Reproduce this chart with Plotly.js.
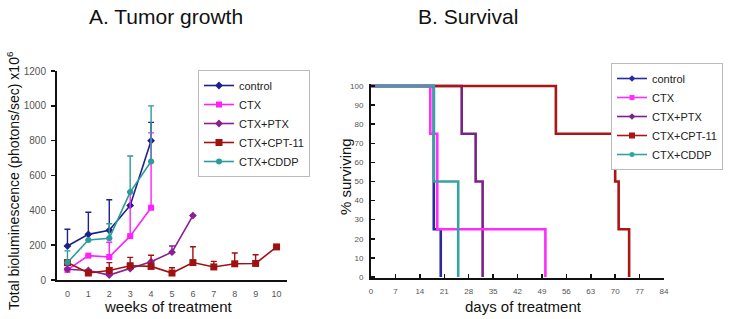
<!DOCTYPE html>
<html>
<head>
<meta charset="utf-8">
<script src="https://cdn.plot.ly/plotly-3.0.1.min.js"></script>
<style>html,body{margin:0;padding:0;background:#fff;}#chart{width:729px;height:319px;}</style>
</head>
<body>
<div id="chart"></div>
<script>
// ---- Panel A: tumor growth (weeks) ----
const seriesNames = ['control', 'CTX', 'CTX+PTX', 'CTX+CPT-11', 'CTX+CDDP'];
const weeks = [0, 1, 2, 3, 4, 5, 6, 7, 8, 9, 10];
const controlVals = [195, 262, 285, 428, 800];
const controlErr = [96, 127, 176, 0, 105];
const ctxVals = [58, 140, 132, 252, 415];
const ctxErr = [0, 0, 85, 255, 430];
const ptxVals = [62, 55, 28, 65, 105, 160, 370];
const ptxErr = [0, 0, 0, 0, 0, 35, 0];
const cptVals = [100, 40, 55, 82, 78, 40, 100, 75, 93, 95, 190];
const cptErr = [0, 0, 45, 48, 64, 30, 91, 32, 62, 50, 0];
const cddpVals = [100, 230, 240, 505, 680];
const cddpErr = [67, 0, 83, 207, 320];
const weekTicks = ['0', '1', '2', '3', '4', '5', '6', '7', '8', '9', '10'];

// ---- Panel B: survival (days, % surviving) ----
const controlDays = [0, 18, 20];
const controlSurv = [100, 25, 0];
const ctxDays = [0, 17, 19, 50];
const ctxSurv = [100, 75, 25, 0];
const ptxDays = [0, 26, 30, 32];
const ptxSurv = [100, 75, 50, 0];
const cptDays = [0, 53, 70, 71, 74];
const cptSurv = [100, 75, 50, 25, 0];
const cddpDays = [0, 18, 25];
const cddpSurv = [100, 50, 0];
const dayTicks = [0, 7, 14, 21, 28, 35, 42, 49, 56, 63, 70, 77, 84];
const survTicks = [0, 10, 20, 30, 40, 50, 60, 70, 80, 90, 100];

const colA = ['#1c2288', '#ff1fff', '#8a1f96', '#a01212', '#2e9b9b'];
const colB = ['#2a2aa0', '#ff2bff', '#7a2288', '#ad1414', '#36a3a3'];
const symbols = ['diamond', 'square', 'diamond', 'square', 'circle'];
const msize = [6, 6, 6, 7, 6];

const growth = [
  [controlVals, controlErr],
  [ctxVals, ctxErr],
  [ptxVals, ptxErr],
  [cptVals, cptErr],
  [cddpVals, cddpErr]
];
const surv = [
  [controlDays, controlSurv],
  [ctxDays, ctxSurv],
  [ptxDays, ptxSurv],
  [cptDays, cptSurv],
  [cddpDays, cddpSurv]
];

const traces = [];
growth.forEach((g, i) => {
  const n = g[0].length;
  traces.push({
    x: weeks.slice(0, n), y: g[0], name: seriesNames[i],
    type: 'scatter', mode: 'lines+markers',
    xaxis: 'x', yaxis: 'y', legend: 'legend',
    line: {color: colA[i], width: 1.6},
    marker: {color: colA[i], symbol: symbols[i], size: msize[i]},
    error_y: {type: 'data', symmetric: false, array: g[1], arrayminus: g[1].map(() => 0),
              color: colA[i], thickness: 1.4, width: 3}
  });
});
// survival step curves (draw order for overlap)
[2, 3, 0, 1, 4].forEach(i => {
  traces.push({
    x: surv[i][0], y: surv[i][1], name: seriesNames[i],
    type: 'scatter', mode: 'lines', line: {shape: 'hv', color: colB[i], width: 2.6},
    xaxis: 'x2', yaxis: 'y2', showlegend: false
  });
});
// legend entries for panel B
seriesNames.forEach((nm, i) => {
  traces.push({
    x: [null], y: [null], name: nm, type: 'scatter', mode: 'lines+markers',
    xaxis: 'x2', yaxis: 'y2', legend: 'legend2',
    line: {color: colB[i], width: 1.6},
    marker: {color: colB[i], symbol: symbols[i], size: msize[i] - 1}
  });
});

const tickFont = {family: 'Arial, Liberation Sans, sans-serif', size: 9, color: '#555'};
const titleFont = {family: 'Arial, Liberation Sans, sans-serif', size: 21, color: '#111'};
const labFont = {family: 'Arial, Liberation Sans, sans-serif', size: 14, color: '#111'};
const legFont = {family: 'Arial, Liberation Sans, sans-serif', size: 11, color: '#222'};

const layout = {
  width: 729, height: 319,
  margin: {l: 0, r: 0, t: 0, b: 0},
  paper_bgcolor: '#fff', plot_bgcolor: 'rgba(0,0,0,0)',
  xaxis: {
    domain: [57 / 729, 287 / 729], range: [-0.5, 10.5], anchor: 'y',
    tickvals: weeks, ticktext: weekTicks, ticks: '', showgrid: false, zeroline: false,
    showline: true, linecolor: '#111', linewidth: 2, tickfont: tickFont, ticklabelstandoff: 4
  },
  xaxis3: {
    domain: [57 / 729, 287 / 729], range: [-0.5, 10.5], anchor: 'y', overlaying: 'x',
    tickvals: weeks.map(w => w - 0.5).concat([10.5]), ticks: 'inside', ticklen: 4, tickwidth: 1.5,
    tickcolor: '#111', showticklabels: false, showgrid: false, zeroline: false, showline: false
  },
  yaxis: {
    domain: [1 - 280 / 319, 1 - 71 / 319], range: [0, 1200], anchor: 'x',
    tickvals: [0, 200, 400, 600, 800, 1000, 1200], ticks: 'outside', ticklen: 4, tickwidth: 1.5,
    tickcolor: '#111', showgrid: false, zeroline: false, showline: true, linecolor: '#111', linewidth: 2,
    tickfont: {family: 'Arial, Liberation Sans, sans-serif', size: 10, color: '#555'}, ticklabelstandoff: 3
  },
  xaxis2: {
    domain: [371 / 729, 664 / 729], range: [0, 84], anchor: 'y2',
    tickvals: dayTicks, ticks: 'inside', ticklen: 4, tickwidth: 1.5, tickcolor: '#111',
    showgrid: false, zeroline: false, showline: true, linecolor: '#111', linewidth: 2,
    tickfont: {family: 'Arial, Liberation Sans, sans-serif', size: 8, color: '#555'}, ticklabelstandoff: 4
  },
  yaxis2: {
    domain: [1 - 278.1 / 319, 1 - 84.1 / 319], range: [-0.6, 101], anchor: 'x2',
    tickvals: survTicks, ticks: 'inside', ticklen: 4, tickwidth: 1.5, tickcolor: '#111',
    showgrid: false, zeroline: false, showline: true, linecolor: '#111', linewidth: 2,
    tickfont: {family: 'Arial, Liberation Sans, sans-serif', size: 8, color: '#555'}, ticklabelstandoff: 4
  },
  legend: {
    x: 198 / 729, y: 1 - 70 / 319, xanchor: 'left', yanchor: 'top',
    bgcolor: '#fff', bordercolor: '#bbb', borderwidth: 1, font: legFont,
    itemwidth: 30, tracegroupgap: 0
  },
  legend2: {
    x: 723 / 729, y: 1 - 63 / 319, xanchor: 'right', yanchor: 'top',
    bgcolor: '#fff', bordercolor: '#bbb', borderwidth: 1, font: legFont,
    itemwidth: 30, tracegroupgap: 0
  },
  showlegend: true,
  annotations: [
    {text: 'A. Tumor growth', x: 166 / 729, y: 1 - 17 / 319, xref: 'paper', yref: 'paper',
     showarrow: false, font: titleFont, xanchor: 'center', yanchor: 'middle'},
    {text: 'B. Survival', x: 468 / 729, y: 1 - 17 / 319, xref: 'paper', yref: 'paper',
     showarrow: false, font: titleFont, xanchor: 'center', yanchor: 'middle'},
    {text: 'Total bioluminescence (photons/sec) x10<sup>6</sup>', x: 13 / 729, y: 1 - 181 / 319,
     xref: 'paper', yref: 'paper', showarrow: false, textangle: -90, font: labFont,
     xanchor: 'center', yanchor: 'middle'},
    {text: '% surviving', x: 345 / 729, y: 1 - 177 / 319, xref: 'paper', yref: 'paper',
     showarrow: false, textangle: -90, font: {family: labFont.family, size: 15, color: '#111'},
     xanchor: 'center', yanchor: 'middle'},
    {text: 'weeks of treatment', x: 168 / 729, y: 1 - 306 / 319, xref: 'paper', yref: 'paper',
     showarrow: false, font: {family: labFont.family, size: 15, color: '#111'}, xanchor: 'center', yanchor: 'middle'},
    {text: 'days of treatment', x: 523 / 729, y: 1 - 306 / 319, xref: 'paper', yref: 'paper',
     showarrow: false, font: {family: labFont.family, size: 15, color: '#111'}, xanchor: 'center', yanchor: 'middle'}
  ]
};

Plotly.newPlot('chart', traces, layout, {displayModeBar: false, staticPlot: true});
</script>
</body>
</html>
